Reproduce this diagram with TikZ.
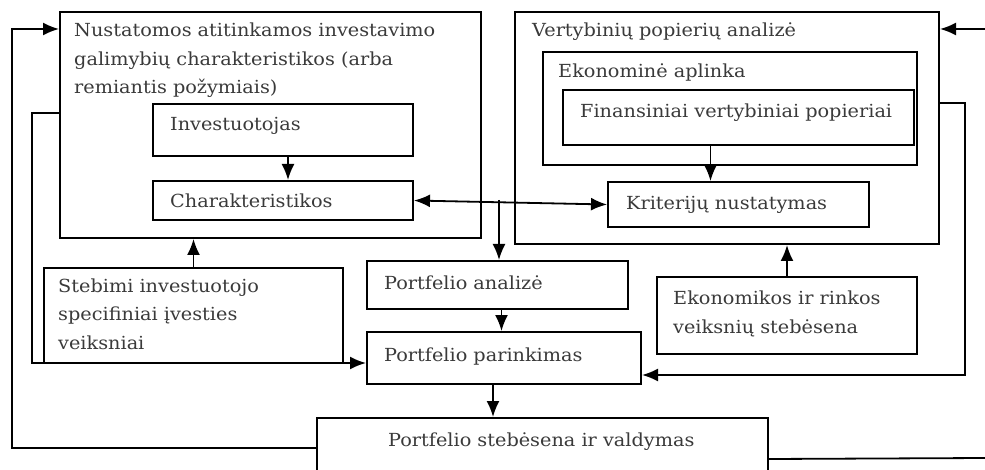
\documentclass[tikz,border=0pt]{standalone}
\usepackage{fontspec}
\setmainfont{DejaVu Serif}[FakeStretch=1.07]
\usetikzlibrary{arrows.meta,calc}
\definecolor{txtgray}{HTML}{3A3A3A}
\tikzset{
  blok/.style={draw,line width=2pt,anchor=north west,inner sep=0pt},
  txt/.style={anchor=base west,inner sep=0pt,text=txtgray,align=left,font=\fontsize{18}{28.5}\selectfont},
  ln/.style={line width=1.8pt},
  arr/.style={ln,-{Latex[length=16pt,width=13pt]}},
  arrs/.style={ln,{Latex[length=16pt,width=13pt]}-{Latex[length=16pt,width=13pt]}},
}
\begin{document}
\begin{tikzpicture}[x=1pt,y=-1pt]
\useasboundingbox (0,0) rectangle (985,470);
%% BLOKAI
\node[blok,minimum width=421,minimum height=226] (nust) at (59,11) {};
\node[blok,minimum width=260,minimum height=52] (inv) at (152,103) {};
\node[blok,minimum width=260,minimum height=39] (char) at (152,180) {};
\node[blok,minimum width=424,minimum height=232] (vpa) at (514,11) {};
\node[blok,minimum width=374,minimum height=113] (eka) at (542,51) {};
\node[blok,minimum width=351,minimum height=55] (fin) at (562,89) {};
\node[blok,minimum width=261,minimum height=45] (krit) at (607,181) {};
\node[blok,minimum width=299,minimum height=95] (steb) at (43,267) {};
\node[blok,minimum width=261,minimum height=48] (pa) at (366,260) {};
\node[blok,minimum width=274,minimum height=52] (pp) at (366,331) {};
\node[blok,minimum width=260,minimum height=77] (ekon) at (656,276) {};
\node[blok,minimum width=451,minimum height=60] (ps) at (316,417) {};
%% TEKSTAI (daugiaeiluciu - paskutines eilutes pagrindas)
\node[txt] (nust-t) at (74,94) {Nustatomos atitinkamos investavimo\\galimybių charakteristikos (arba\\remiantis požymiais)};
\node[txt] (inv-t) at (170,131) {Investuotojas};
\node[txt] (char-t) at (170,208) {Charakteristikos};
\node[txt] (vpa-t) at (532,37) {Vertybinių popierių analizė};
\node[txt] (eka-t) at (558,78) {Ekonominė aplinka};
\node[txt] (fin-t) at (580,118) {Finansiniai vertybiniai popieriai};
\node[txt] (krit-t) at (626,210) {Kriterijų nustatymas};
\node[txt] (steb-t) at (58,349) {Stebimi investuotojo\\specifiniai įvesties\\veiksniai};
\node[txt] (pa-t) at (384,290) {Portfelio analizė};
\node[txt] (pp-t) at (384,361) {Portfelio parinkimas};
\node[txt] (ps-t) at (388,446) {Portfelio stebėsena ir valdymas};
\node[txt] (ekon-t) at (673,333) {Ekonomikos ir rinkos\\veiksnių stebėsena};
%% RODYKLES
\draw[arr] ($(inv.south)+(5,0)$) -- ($(inv.south |- char.north)+(5,0)$);
\draw[arr] ($(fin.south)+(-28,0)$) -- ($(fin.south |- krit.north)+(-28,0)$);
\draw[arrs] (char.east) -- (krit.west);
\coordinate (split) at (499,200);
\draw[arr] (split) -- (split |- pa.north);
\draw[arr] ($(pa.south)+(4,0)$) -- ($(pa.south |- pp.north)+(4,0)$);
\draw[arr] ($(pp.south)+(-11,0)$) -- ($(pp.south |- ps.north)+(-11,0)$);
\draw[arr] (steb.north) -- (steb.north |- nust.south);
\draw[arr] (ekon.north) -- (ekon.north |- vpa.south);
%% GRIZTAMIEJI RYSIAI
\coordinate (lt) at (12,29);
\draw[arr] (ps.west) -| (lt) -- (lt -| nust.west);
\coordinate (lm) at (32,113);
\draw[arr] (lm -| nust.west) -- (lm) |- ($(pp.west)+(0,5)$);
\coordinate (rt) at (985,29);
\draw[arr] (rt) -- (rt -| vpa.east);
\coordinate (rm) at (965,103);
\draw[arr] (rm -| vpa.east) -- (rm) |- ($(pp.east)+(0,17)$);
\coordinate (rb) at (985,458);
\draw[ln] ($(ps.east)+(0,11)$) -- (rb);
\end{tikzpicture}
\end{document}
